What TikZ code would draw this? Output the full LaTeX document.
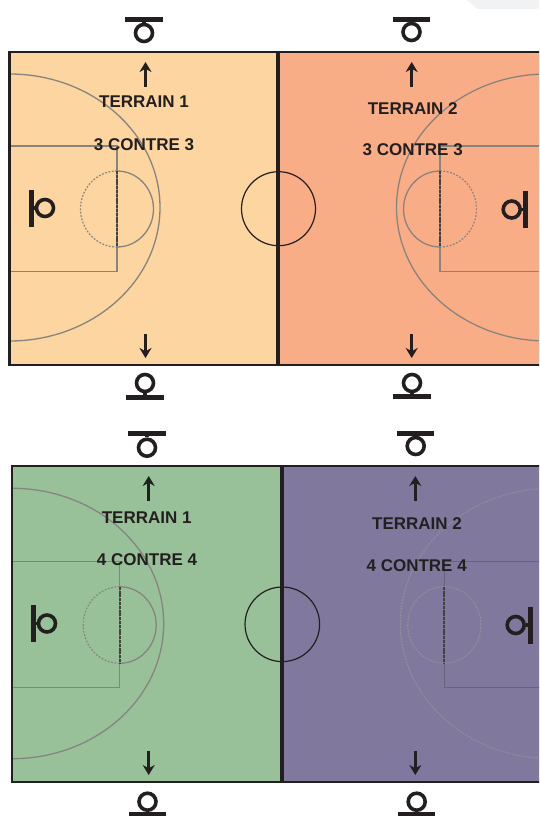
\documentclass[tikz,border=0pt]{standalone}
\usepackage{fontspec}
\setmainfont{Liberation Sans}
\usetikzlibrary{arrows.meta, positioning, calc}
\definecolor{cpeach}{RGB}{252, 213, 160}
\definecolor{csalmon}{RGB}{249, 173, 135}
\definecolor{cgreen}{RGB}{152, 193, 153}
\definecolor{cpurple}{RGB}{129, 121, 157}
\definecolor{cink}{RGB}{35, 31, 32}
\definecolor{cline}{RGB}{135, 132, 128}
\definecolor{cfaint}{RGB}{145, 142, 155}
\definecolor{cdusk}{RGB}{104, 99, 122}
\definecolor{cpatch}{RGB}{241, 242, 244}
\tikzset{
  frame/.style    = {draw=cink, line width=2.8pt},
  midline/.style  = {draw=cink, line width=3.2pt},
  courtln/.style  = {draw=cline, line width=1.3pt},
  duskln/.style   = {draw=cdusk, line width=1.2pt},
  courtdot/.style = {draw=cline, line width=1.2pt, dash pattern=on 1.8pt off 1.6pt},
  faintdot/.style = {draw=cfaint, line width=1.1pt, dash pattern=on 1.8pt off 1.2pt},
  backln/.style   = {draw=cink!85!white, line width=1.7pt, dash pattern=on 3pt off 0.8pt},
  centre/.style   = {draw=cink, line width=1.2pt},
  ring/.style     = {circle, draw=cink, line width=3.6pt, inner sep=0pt, minimum size=17pt},
  stem/.style     = {draw=cink, line width=3.4pt},
  bar/.style      = {draw=cink, line width=5pt},
  flow/.style     = {draw=cink, line width=2.8pt, -{Stealth[length=10pt, width=12pt]}},
  lab/.style      = {font=\fontsize{17}{20}\selectfont\bfseries, text=cink}
}
\begin{document}
\begin{tikzpicture}[x=1pt, y=-1pt]

% -- Page (pixel coordinates, top -> bottom) ---------------------------------
\path[use as bounding box, clip] (0,0) rectangle (539,816);
\fill[white] (0,0) rectangle (539,816);
\fill[cpatch] (467,0) -- (539,0) -- (539,9) -- (478,9) -- cycle;

% -- Court fills --------------------------------------------------------------
\fill[cpeach]  (9.5,52)  rectangle (278,365);
\fill[csalmon] (278,52)  rectangle (560,365);
\fill[cgreen]  (12,466)  rectangle (282,782);
\fill[cpurple] (282,466) rectangle (560,782);

% -- Top pair : arcs, keys, circles ------------------------------------------
\draw[courtln] (9.5,74) arc[start angle=90, end angle=-90, x radius=150.5pt, y radius=133.5pt];
\draw[courtln] (547,74) arc[start angle=90, end angle=270, x radius=150.5pt, y radius=133.5pt];
\draw[courtln] (9.5,146) -- (117,146) -- (117,271.6) -- (9.5,271.6);
\draw[courtln] (560,146) -- (440,146) -- (440,271.6) -- (560,271.6);
\draw[courtln]  (117,171) arc[start angle=90, end angle=-90, x radius=36.5pt, y radius=38pt];
\draw[courtdot] (117,171) arc[start angle=90, end angle=270, x radius=36.5pt, y radius=38pt];
\draw[courtln]  (440,171) arc[start angle=90, end angle=270, x radius=36.5pt, y radius=38pt];
\draw[courtdot] (440,171) arc[start angle=90, end angle=-90, x radius=36.5pt, y radius=38pt];
\draw[backln] (117,171) -- (117,247);
\draw[backln] (440,171) -- (440,247);

% -- Bottom pair --------------------------------------------------------------
\draw[courtln] (12,488.3) arc[start angle=90, end angle=-90, x radius=151.7pt, y radius=135.2pt];
\draw[faintdot] (552,488.3) arc[start angle=90, end angle=270, x radius=151.7pt, y radius=135.2pt];
\draw[courtln] (12,561.3) -- (119.7,561.3) -- (119.7,687.7) -- (12,687.7);
\draw[duskln] (560,561.3) -- (444.3,561.3) -- (444.3,687.7) -- (560,687.7);
\draw[courtln]  (119.7,586.7) arc[start angle=90, end angle=-90, x radius=36.5pt, y radius=38.3pt];
\draw[courtdot] (119.7,586.7) arc[start angle=90, end angle=270, x radius=36.5pt, y radius=38.3pt];
\draw[faintdot] (444.3,625) ellipse[x radius=36.6pt, y radius=38.3pt];
\draw[backln] (119.7,586.7) -- (119.7,663.3);
\draw[backln] (444.3,586.7) -- (444.3,663.3);

% -- Centre circles -----------------------------------------------------------
\draw[centre] (278.5,208.7) circle[radius=37pt];
\draw[centre] (282.3,624.3) circle[radius=37.3pt];

% -- Frames -------------------------------------------------------------------
\draw[frame] (560,52) -- (9.5,52) -- (9.5,365) -- (560,365);
\draw[frame] (560,466) -- (12,466) -- (12,782) -- (560,782);
\draw[midline] (278,52) -- (278,365);
\draw[midline] (282,466) -- (282,782);

% -- Hoops on the short sides -------------------------------------------------
\foreach \n/\x/\y/\by in {a/144/33/20, b/411.5/32/19.5, c/145/383/397.5, d/412/383/396.7,
                          e/147/447.7/433.3, f/415.7/446/433.3, g/147.5/801.7/814.3, h/416.7/801.7/814.3}{
  \node[ring] (r\n) at (\x,\y) {};
  \coordinate (b\n) at (\x,\by);
  \draw[stem] (r\n) -- (b\n);
  \draw[bar] ([xshift=-18.6pt]b\n) -- ([xshift=18.6pt]b\n);
}

% -- Hoops on the long sides --------------------------------------------------
\foreach \n/\x/\y/\bx in {i/45/208/31, j/511.7/209.5/525, k/47/623.5/33.3, l/515.7/625/530.7}{
  \node[ring] (r\n) at (\x,\y) {};
  \coordinate (b\n) at (\bx,\y);
  \draw[stem] (r\n) -- (b\n);
  \draw[bar] ([yshift=-18.5pt]b\n) -- ([yshift=18.5pt]b\n);
}

% -- Arrows -------------------------------------------------------------------
\foreach \n/\x/\ya/\yb in {a/145.5/86.5/62, b/411.7/86.5/62, c/145.5/334/358, d/411.7/334/358,
                           e/148.7/500.7/476, f/415.3/500.7/476, g/148.7/750.7/775, h/415.3/750.7/775}{
  \coordinate (s\n) at (\x,\ya);
  \coordinate (t\n) at (\x,\yb);
  \draw[flow] (s\n) -- (t\n);
}

% -- Labels -------------------------------------------------------------------
\node[lab] (t1) at (144,102)     {TERRAIN 1};
\node[lab] (p1) at (144,144.5)   {3 CONTRE 3};
\node[lab] (t2) at (412.7,109)   {TERRAIN 2};
\node[lab] (p2) at (412.7,150)   {3 CONTRE 3};
\node[lab] (t3) at (146.7,517.3) {TERRAIN 1};
\node[lab] (p3) at (147,559.3)   {4 CONTRE 4};
\node[lab] (t4) at (417,524)     {TERRAIN 2};
\node[lab] (p4) at (416.7,565.3) {4 CONTRE 4};

\end{tikzpicture}
\end{document}
